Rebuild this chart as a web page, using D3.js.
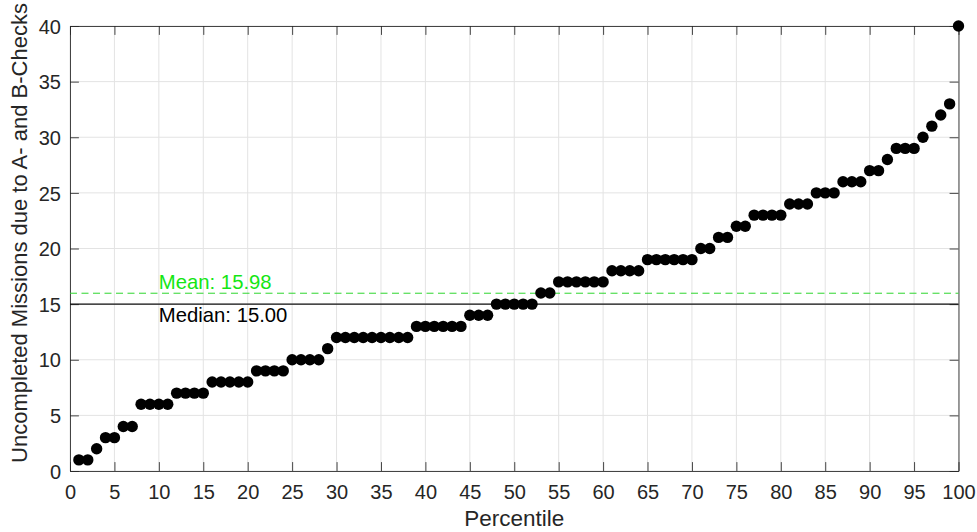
<!DOCTYPE html>
<html>
<head>
<meta charset="utf-8">
<script src="https://cdn.jsdelivr.net/npm/d3@7"></script>
<style>
  html, body { margin: 0; padding: 0; background: #fff; }
  svg { display: block; font-family: "Liberation Sans", Arial, Helvetica, sans-serif; }
</style>
</head>
<body>
<svg id="chart" width="977" height="532"></svg>
<script>
// Uncompleted missions per percentile (sorted sample of 100 runs)
const percentiles = d3.range(1, 101);
const missions = [
  1, 1, 2, 3, 3, 4, 4, 6, 6, 6,
  6, 7, 7, 7, 7, 8, 8, 8, 8, 8,
  9, 9, 9, 9, 10, 10, 10, 10, 11, 12,
  12, 12, 12, 12, 12, 12, 12, 12, 13, 13,
  13, 13, 13, 13, 14, 14, 14, 15, 15, 15,
  15, 15, 16, 16, 17, 17, 17, 17, 17, 17,
  18, 18, 18, 18, 19, 19, 19, 19, 19, 19,
  20, 20, 21, 21, 22, 22, 23, 23, 23, 23,
  24, 24, 24, 25, 25, 25, 26, 26, 26, 27,
  27, 28, 29, 29, 29, 30, 31, 32, 33, 40
];
const xTicks = d3.range(0, 101, 5);
const yTicks = d3.range(0, 41, 5);

const meanValue = d3.mean(missions);
const medianValue = d3.median(missions);

const margin = { left: 70, top: 26, right: 977 - 958.5, bottom: 532 - 471 };
const svg = d3.select("#chart");
const W = 977, H = 532;
const iw = W - margin.left - margin.right;
const ih = H - margin.top - margin.bottom;

const x = d3.scaleLinear().domain([0, 100]).range([0, iw]);
const y = d3.scaleLinear().domain([0, 40]).range([ih, 0]);

const g = svg.append("g").attr("transform", `translate(${margin.left},${margin.top})`);
const axisColor = "#262626";
const tickLen = 8.9;

// grid
g.append("g").selectAll("line").data(xTicks).join("line")
  .attr("x1", d => x(d)).attr("x2", d => x(d)).attr("y1", 0).attr("y2", ih)
  .attr("stroke", "#e3e3e3").attr("stroke-width", 1);
g.append("g").selectAll("line").data(yTicks).join("line")
  .attr("x1", 0).attr("x2", iw).attr("y1", d => y(d)).attr("y2", d => y(d))
  .attr("stroke", "#e3e3e3").attr("stroke-width", 1);

// axes with inward ticks on all four sides
const axBottom = g.append("g").attr("transform", `translate(0,${ih})`)
  .call(d3.axisBottom(x).tickValues(xTicks).tickSizeInner(-tickLen).tickSizeOuter(0).tickPadding(14));
const axTop = g.append("g")
  .call(d3.axisTop(x).tickValues(xTicks).tickSizeInner(-tickLen).tickSizeOuter(0).tickFormat(""));
const axLeft = g.append("g")
  .call(d3.axisLeft(y).tickValues(yTicks).tickSizeInner(-tickLen).tickSizeOuter(0).tickPadding(9));
const axRight = g.append("g").attr("transform", `translate(${iw},0)`)
  .call(d3.axisRight(y).tickValues(yTicks).tickSizeInner(-tickLen).tickSizeOuter(0).tickFormat(""));

[axBottom, axTop, axLeft, axRight].forEach(a => {
  a.select(".domain").attr("stroke", axisColor).attr("stroke-width", 1).attr("opacity", 0.85);
  a.selectAll(".tick line").attr("stroke", axisColor).attr("stroke-width", 1).attr("opacity", 0.85);
  a.selectAll(".tick text").attr("fill", axisColor).attr("font-size", 20)
    .attr("font-family", "\"Liberation Sans\", Arial, sans-serif");
});
axLeft.selectAll(".tick text").attr("dy", "0.36em");

// reference lines: median (solid) and mean (dashed)
g.append("line")
  .attr("x1", 0).attr("x2", iw).attr("y1", y(medianValue)).attr("y2", y(medianValue))
  .attr("stroke", "#111").attr("stroke-width", 1.1);
g.append("line")
  .attr("x1", 0).attr("x2", iw).attr("y1", y(meanValue)).attr("y2", y(meanValue))
  .attr("stroke", "#2ed62e").attr("stroke-width", 1).attr("stroke-dasharray", "7,4.5");

g.append("text")
  .attr("x", x(10)).attr("y", y(meanValue) - 4)
  .attr("fill", "#14e614").attr("font-size", 20.3)
  .text(`Mean: ${meanValue.toFixed(2)}`);
g.append("text")
  .attr("x", x(10)).attr("y", y(medianValue) + 18)
  .attr("fill", "#000").attr("font-size", 20.3)
  .text(`Median: ${medianValue.toFixed(2)}`);

// points
g.append("g").selectAll("circle").data(percentiles).join("circle")
  .attr("cx", (d) => x(d))
  .attr("cy", (d, i) => y(missions[i]))
  .attr("r", 5.7)
  .attr("fill", "#000");

// axis labels
svg.append("text")
  .attr("x", margin.left + iw / 2).attr("y", 526)
  .attr("text-anchor", "middle").attr("fill", axisColor).attr("font-size", 22.5)
  .text("Percentile");
svg.append("text")
  .attr("transform", "translate(27,233) rotate(-90)")
  .attr("text-anchor", "middle").attr("fill", axisColor).attr("font-size", 22)
  .text("Uncompleted Missions due to A- and B-Checks");
</script>
</body>
</html>
